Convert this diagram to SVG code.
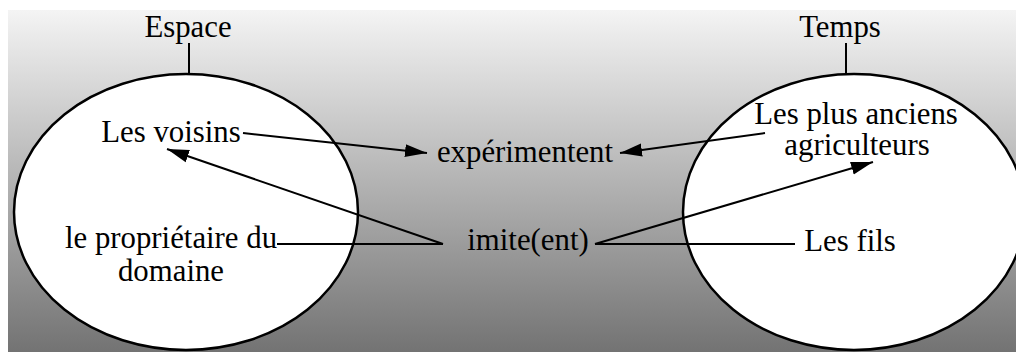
<svg xmlns="http://www.w3.org/2000/svg" width="1016" height="352" viewBox="0 0 1016 352">
<defs>
<linearGradient id="bg" x1="0" y1="10" x2="0" y2="352" gradientUnits="userSpaceOnUse">
<stop offset="0" stop-color="#f4f4f4"/>
<stop offset="1" stop-color="#737373"/>
</linearGradient>
<marker id="ah" markerUnits="userSpaceOnUse" markerWidth="24" markerHeight="16" viewBox="0 0 24 16" refX="22" refY="8" orient="auto">
<path d="M0,1.5 L22,8 L0,14.5 Z" fill="#000"/>
</marker>
<style>
text{font-family:"Liberation Serif","Times New Roman",serif;font-size:30.8px;fill:#000;text-anchor:middle}
.el{fill:#fff;stroke:#000;stroke-width:2.5}
.ln{stroke:#000;stroke-width:2;fill:none}
.ar{stroke:#000;stroke-width:2;fill:none;marker-end:url(#ah)}
</style>
</defs>
<rect x="8" y="10" width="1008" height="342" fill="url(#bg)"/>
<g id="espace">
<line class="ln" x1="189" y1="43" x2="189" y2="74"/>
<ellipse class="el" cx="186" cy="212" rx="172" ry="138"/>
<text x="188" y="37">Espace</text>
</g>
<g id="temps">
<line class="ln" x1="846" y1="43" x2="846" y2="74"/>
<ellipse class="el" cx="854" cy="212" rx="171" ry="138"/>
<text x="840" y="37">Temps</text>
</g>
<g id="voisins"><text x="171" y="142">Les voisins</text></g>
<g id="proprietaire"><text x="171" y="248">le propriétaire du</text><text x="171" y="281">domaine</text></g>
<g id="experimentent"><text x="525" y="162">expérimentent</text></g>
<g id="imite"><text x="528" y="250">imite(ent)</text></g>
<g id="anciens"><text x="856" y="124">Les plus anciens</text><text x="857" y="155">agriculteurs</text></g>
<g id="fils"><text x="850" y="251">Les fils</text></g>
<g id="connectors">
<line class="ar" x1="243" y1="133" x2="427" y2="153"/>
<line class="ar" x1="765" y1="133" x2="620" y2="153"/>
<line class="ar" x1="443" y1="244" x2="167" y2="149"/>
<line class="ar" x1="595" y1="244" x2="873" y2="162"/>
<line class="ln" x1="277" y1="244" x2="443" y2="244"/>
<line class="ln" x1="595" y1="244" x2="795" y2="244"/>
</g>
</svg>
